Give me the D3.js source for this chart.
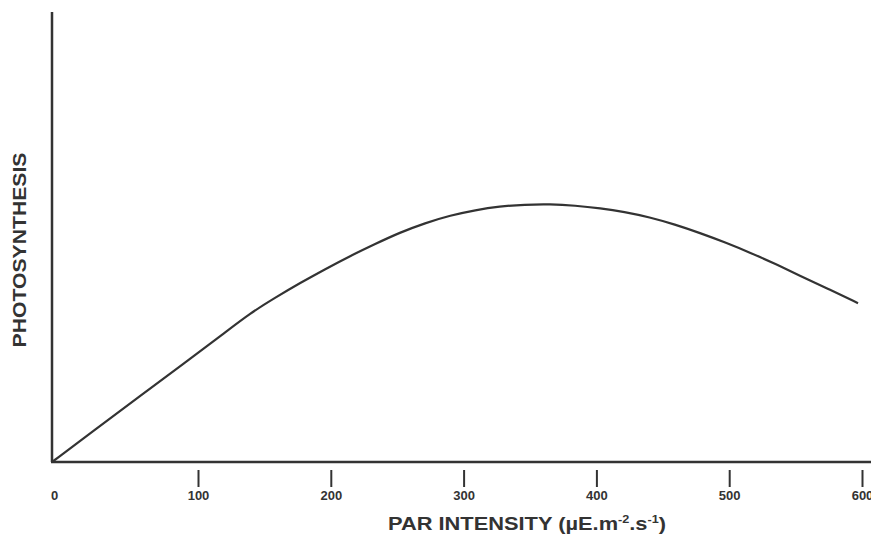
<!DOCTYPE html>
<html>
<head>
<meta charset="utf-8">
<script src="https://cdn.jsdelivr.net/npm/d3@7"></script>
<style>
  body { margin: 0; background: #fff; }
  svg { display: block; font-family: "Liberation Sans", Arial, sans-serif; }
</style>
</head>
<body>
<div id="chart"></div>
<script>
// PAR intensity (µE.m-2.s-1) and relative photosynthesis
var par = [0, 30, 60, 90, 120, 139, 158, 177, 196, 214, 233, 252, 271, 290, 309, 327, 346, 365, 384, 403, 421, 440, 459, 478, 497, 516, 535, 553, 575, 597];
var photo = [0, 7.3, 14.6, 21.8, 28.7, 33.0, 36.5, 39.8, 42.9, 45.7, 48.4, 51.0, 53.1, 54.8, 56.0, 56.8, 57.2, 57.3, 57.0, 56.4, 55.6, 54.4, 52.8, 50.9, 48.8, 46.5, 44.0, 41.4, 38.4, 35.3];
var xTicks = [0, 100, 200, 300, 400, 500, 600];

var width = 871, height = 540;

var svg = d3.select("#chart").append("svg")
    .attr("width", width)
    .attr("height", height);

// origin sits left of where 0 would fall on the 100-step spacing
var x = d3.scaleLinear()
    .domain([0, 100, 600])
    .range([52, 198, 862]);

var y = d3.scaleLinear()
    .domain([0, 100])
    .range([462, 12]);

var ink = "#333";

// axis lines
svg.append("line")
    .attr("x1", x(0)).attr("x2", x(0))
    .attr("y1", y(100)).attr("y2", y(0))
    .attr("stroke", ink).attr("stroke-width", 2.5);

svg.append("line")
    .attr("x1", x(0) - 1).attr("x2", width)
    .attr("y1", y(0)).attr("y2", y(0))
    .attr("stroke", ink).attr("stroke-width", 2.5);

// ticks hang below the axis with a small gap
var xAxis = svg.append("g")
    .attr("transform", "translate(0," + (y(0) + 8) + ")")
    .call(d3.axisBottom(x).tickValues(xTicks).tickSize(17).tickPadding(4).tickFormat(d3.format("d")));

xAxis.select(".domain").remove();
xAxis.selectAll(".tick line")
    .attr("stroke", ink).attr("stroke-width", 2)
    .filter(function (d) { return d === 0; }).remove();
xAxis.selectAll(".tick text")
    .attr("fill", ink)
    .attr("font-size", 13)
    .attr("font-weight", "bold")
    .attr("font-family", "Liberation Sans, Arial, sans-serif");
xAxis.selectAll(".tick")
    .filter(function (d) { return d === 0; })
    .select("text").attr("x", 2);

// curve
var line = d3.line()
    .curve(d3.curveBasis)
    .x(function (d, i) { return x(par[i]); })
    .y(function (d) { return y(d); });

svg.append("path")
    .datum(photo)
    .attr("fill", "none")
    .attr("stroke", ink)
    .attr("stroke-width", 2.2)
    .attr("d", line);

// titles
var xt = svg.append("text")
    .attr("x", 527)
    .attr("y", 530)
    .attr("text-anchor", "middle")
    .attr("font-size", 19)
    .attr("font-weight", "bold")
    .attr("fill", ink)
    .attr("textLength", 278)
    .attr("lengthAdjust", "spacingAndGlyphs");
xt.append("tspan").text("PAR INTENSITY (\u00B5E.m");
xt.append("tspan").attr("font-size", 11).attr("dy", -7).text("-2");
xt.append("tspan").attr("dy", 7).text(".s");
xt.append("tspan").attr("font-size", 11).attr("dy", -7).text("-1");
xt.append("tspan").attr("dy", 7).text(")");

svg.append("text")
    .attr("transform", "translate(26,250) rotate(-90)")
    .attr("text-anchor", "middle")
    .attr("font-size", 18)
    .attr("font-weight", "bold")
    .attr("fill", ink)
    .attr("textLength", 195)
    .attr("lengthAdjust", "spacingAndGlyphs")
    .text("PHOTOSYNTHESIS");
</script>
</body>
</html>
